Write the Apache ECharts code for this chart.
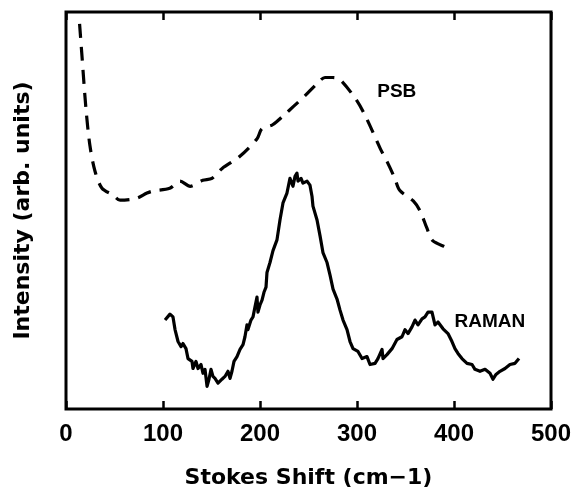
<!DOCTYPE html>
<html>
<head>
<meta charset="utf-8">
<script src="https://cdn.jsdelivr.net/npm/echarts@6/dist/echarts.min.js"></script>
<style>
  html, body { margin: 0; padding: 0; background: #fff; }
  #chart { width: 576px; height: 494px; }
</style>
</head>
<body>
<div id="chart"></div>
<script>
// x ticks (Stokes shift, cm-1)
var xTicks = [0, 100, 200, 300, 400, 500];

// PSB curve (dashed), arbitrary intensity 0..100
var psbX = [14, 16.5, 20.6, 24.7, 29.9, 37.1, 48.5, 55.7, 73.2, 83.5, 89.7, 107, 117.5, 128, 141, 150.5, 161, 179, 197, 202, 213, 226, 234, 246, 259, 267, 275, 282.5, 300, 310, 324, 331, 339, 344, 358, 365, 372, 378, 393, 395];
var psbY = [97, 88.8, 75.6, 66.3, 59.9, 55.6, 53.9, 52.6, 53.1, 54.4, 54.9, 55.6, 57.4, 56.1, 57.6, 58.1, 60.6, 63.6, 68.1, 70.6, 71.6, 74.3, 76.1, 78.8, 82, 83.5, 83.5, 83, 77.6, 73.1, 65.6, 62.3, 58.1, 55.1, 52.4, 49.9, 45.6, 42.4, 40.6, 39.9];

// Raman curve (solid)
var ramanX = [102.1, 107.2, 110.3, 112.4, 115.5, 118.6, 120.6, 123.7, 125.8, 129.9, 130.9, 134, 136.1, 139.2, 141.2, 143.3, 145.4, 147.4, 149.5, 151.5, 153.6, 156.7, 160.8, 163.9, 167, 169.1, 171.1, 173.2, 176.3, 179.4, 182.5, 184.5, 186.6, 187.6, 190.7, 192.8, 194.8, 196.9, 197.9, 200, 202.1, 204.1, 206.2, 207.2, 210.3, 213.4, 217.5, 220.6, 223.7, 227.8, 230.9, 234, 236.1, 238.1, 239.2, 242.3, 244.3, 248.5, 251.5, 253.6, 254.6, 258.8, 261.9, 264.9, 269.1, 272.2, 275.3, 279.4, 282.5, 285.6, 289.7, 292.8, 295.9, 301, 305.2, 310.3, 313.4, 318.6, 321.6, 325.8, 326.8, 330.9, 336.1, 341.2, 346.4, 349.5, 352.6, 356.7, 359.8, 362.9, 367, 370.1, 373.2, 377.3, 380.4, 383.5, 388.7, 393.8, 397.9, 401, 404.1, 408.2, 413.4, 418.6, 421.6, 426.8, 432, 437.1, 440.2, 443.3, 447.4, 452.6, 457.7, 462.9, 467];
var ramanY = [22.4, 23.9, 23.2, 20, 17, 15.7, 16.5, 15.2, 12.7, 12, 10.2, 12, 10.2, 11.2, 9, 10, 5.7, 7.5, 10, 8.2, 7.7, 6.5, 7.5, 8.2, 9.5, 7.7, 9.5, 12, 13.2, 15, 16.2, 18.2, 21.2, 20, 22.4, 23.2, 25.7, 28.2, 24.4, 26.2, 27.4, 29.4, 30.7, 34.4, 36.9, 39.9, 42.6, 47.6, 51.9, 54.4, 58.1, 56.1, 58.6, 59.4, 57.4, 58.1, 56.9, 57.4, 56.4, 53.6, 51.1, 47.6, 43.6, 39.4, 36.9, 33.7, 30.2, 27.7, 24.9, 22.4, 20, 17, 15.2, 14.5, 12.7, 13.2, 11.2, 11.5, 12.7, 15, 12.7, 13.7, 15.2, 17.5, 18.2, 20, 19, 20.7, 22.4, 21.2, 22.7, 23.2, 24.4, 24.4, 21.2, 21.9, 20.2, 19, 17, 15.2, 14, 12.7, 11.5, 11.2, 10, 9.5, 10, 9, 7.5, 8.7, 9.5, 10.2, 11.2, 11.5, 12.7];

// curve labels [x, y, text]
var curveLabels = [[341, 80, 'PSB'], [437, 22, 'RAMAN']];

function zip(xs, ys) {
    return xs.map(function (x, i) { return [x, ys[i]]; });
}

var chart = echarts.init(document.getElementById('chart'));

var tickStyle = { show: true, inside: true, length: 8, lineStyle: { color: '#000', width: 2.5 } };

chart.setOption({
    animation: false,
    grid: {
        left: 66, right: 25, top: 12, bottom: 81,
        show: true, borderColor: '#000', borderWidth: 3
    },
    xAxis: [
        {
            type: 'value', min: 0, max: 500, interval: 100,
            position: 'bottom',
            axisLine: { show: false },
            axisTick: tickStyle,
            splitLine: { show: false },
            axisLabel: {
                margin: 13, color: '#000',
                fontFamily: 'Liberation Sans', fontWeight: 'bold', fontSize: 24,
                formatter: function (v) { return xTicks.indexOf(v) >= 0 ? String(v) : ''; }
            },
            name: 'Stokes Shift (cm\u22121)',
            nameLocation: 'middle', nameGap: 58,
            nameTextStyle: { color: '#000', fontFamily: 'DejaVu Sans', fontWeight: 'bold', fontSize: 22 }
        },
        {
            type: 'value', min: 0, max: 500, interval: 100,
            position: 'top',
            axisLine: { show: false },
            axisTick: tickStyle,
            axisLabel: { show: false },
            splitLine: { show: false }
        }
    ],
    yAxis: {
        type: 'value', min: 0, max: 100,
        axisLine: { show: false },
        axisTick: { show: false },
        axisLabel: { show: false },
        splitLine: { show: false },
        name: 'Intensity (arb. units)',
        nameLocation: 'middle', nameGap: 32,
        nameTextStyle: { color: '#000', fontFamily: 'DejaVu Sans', fontWeight: 'bold', fontSize: 22 }
    },
    series: [
        {
            type: 'line', data: zip(psbX, psbY),
            showSymbol: false, smooth: 0.3,
            lineStyle: { color: '#000', width: 3.2, type: [14, 9] },
            markPoint: {
                symbolSize: 0,
                label: { show: true, color: '#000', fontFamily: 'Liberation Sans', fontWeight: 'bold', fontSize: 19, formatter: '{b}' },
                data: curveLabels.map(function (l) { return { coord: [l[0], l[1]], name: l[2] }; })
            }
        },
        {
            type: 'line', data: zip(ramanX, ramanY),
            showSymbol: false,
            lineStyle: { color: '#000', width: 3.2, join: 'round' }
        }
    ]
});
</script>
</body>
</html>
